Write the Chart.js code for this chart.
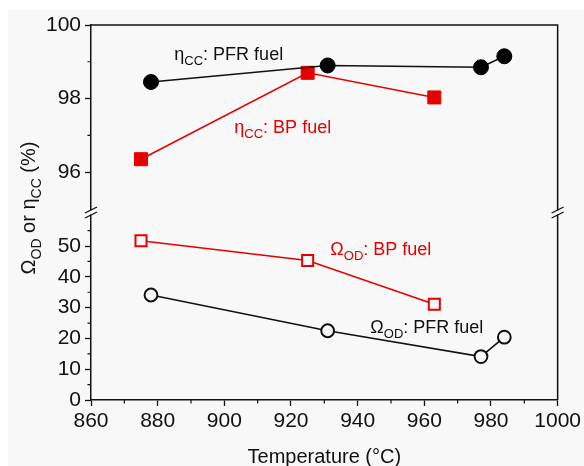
<!DOCTYPE html>
<html>
<head>
<meta charset="utf-8">
<script src="https://cdn.jsdelivr.net/npm/chart.js@4.4.0/dist/chart.umd.min.js"></script>
<style>
  html, body { margin: 0; padding: 0; background: #fff; }
  #wrap { position: relative; width: 584px; height: 466px; overflow: hidden; }
  #bg { position: absolute; left: 8px; top: 10px; right: 0; bottom: 0; background: #f8f8f8; }
  canvas { position: absolute; left: 0; top: 0; }
</style>
</head>
<body>
<div id="wrap"><div id="bg"></div><canvas id="chart" width="584" height="466"></canvas></div>
<script>
// values
const temperaturePfr = [878, 931, 977, 984];
const etaCcPfr = [98.45, 98.9, 98.85, 99.15];
const omegaOdPfr = [34.1, 22.5, 14.1, 20.4];

const temperatureBp = [875, 925, 963];
const etaCcBp = [96.35, 98.7, 98.03];
const omegaOdBp = [51.7, 45.3, 31.1];

const xTicks = [860, 880, 900, 920, 940, 960, 980, 1000];
const xMinorTicks = [870, 890, 910, 930, 950, 970, 990];
const topTicks = [96, 98, 100];
const topMinorTicks = [97, 99];
const bottomTicks = [0, 10, 20, 30, 40, 50];
const bottomMinorTicks = [5, 15, 25, 35, 45, 55];

const FONT = "'Liberation Sans', Arial, sans-serif";
const RED = '#e60000';
const BLACK = '#111';
const BG = '#f8f8f8';

const toPoints = (xs, ys) => xs.map((x, i) => ({ x: x, y: ys[i] }));

function yScale(min, max, ticks) {
  return {
    type: 'linear',
    position: 'left',
    stack: 'y',
    stackWeight: 1,
    min: min,
    max: max,
    afterBuildTicks: s => { s.ticks = ticks.map(v => ({ value: v })); },
    afterFit: s => { s.width = 91; },
    grid: { drawOnChartArea: false, tickLength: 6, tickColor: BLACK, tickWidth: 1.3 },
    border: { color: BLACK, width: 1.5 },
    ticks: { color: BLACK, padding: 4, autoSkip: false, font: { family: FONT, size: 21 },
             callback: v => String(v) }
  };
}

// text with subscripts: parts = [[text, isSub], ...]
function richText(ctx, parts, x, y, size, align) {
  const subSize = Math.round(size * 0.7);
  let w = 0;
  for (const [t, sub] of parts) {
    ctx.font = (sub ? subSize : size) + 'px ' + FONT;
    w += ctx.measureText(t).width;
  }
  let cx = align === 'center' ? x - w / 2 : x;
  for (const [t, sub] of parts) {
    ctx.font = (sub ? subSize : size) + 'px ' + FONT;
    ctx.fillText(t, cx, sub ? y + size * 0.3 : y);
    cx += ctx.measureText(t).width;
  }
}

function breakMark(ctx, x, y) {
  ctx.fillStyle = BG;
  ctx.fillRect(x - 3, y - 2, 6, 4);
  ctx.strokeStyle = BLACK;
  ctx.lineWidth = 1.3;
  for (const d of [-2.5, 2.5]) {
    ctx.beginPath();
    ctx.moveTo(x - 6, y + d + 3);
    ctx.lineTo(x + 6, y + d - 3);
    ctx.stroke();
  }
}

const decorations = {
  id: 'decorations',
  afterDraw(chart) {
    const ctx = chart.ctx;
    const area = chart.chartArea;
    const x = chart.scales.x, yTop = chart.scales.yTop, yBot = chart.scales.yBot;
    ctx.save();

    // top and right frame
    ctx.strokeStyle = BLACK;
    ctx.lineWidth = 1.5;
    ctx.beginPath();
    ctx.moveTo(area.left, area.top);
    ctx.lineTo(area.right, area.top);
    ctx.lineTo(area.right, area.bottom);
    ctx.stroke();

    // minor ticks
    ctx.lineWidth = 1.2;
    ctx.beginPath();
    for (const v of xMinorTicks) {
      const px = x.getPixelForValue(v);
      ctx.moveTo(px, area.bottom);
      ctx.lineTo(px, area.bottom + 3.5);
    }
    for (const v of topMinorTicks) {
      const py = yTop.getPixelForValue(v);
      ctx.moveTo(area.left, py);
      ctx.lineTo(area.left - 3.5, py);
    }
    for (const v of bottomMinorTicks) {
      const py = yBot.getPixelForValue(v);
      ctx.moveTo(area.left, py);
      ctx.lineTo(area.left - 3.5, py);
    }
    ctx.stroke();

    // axis break
    const yb = yTop.bottom;
    breakMark(ctx, area.left, yb);
    breakMark(ctx, area.right, yb);

    // series labels
    ctx.textBaseline = 'alphabetic';
    ctx.fillStyle = BLACK;
    richText(ctx, [['η', false], ['CC', true], [': PFR fuel', false]],
      x.getPixelForValue(885), yTop.getPixelForValue(99.05), 18, 'left');
    ctx.fillStyle = RED;
    richText(ctx, [['η', false], ['CC', true], [': BP fuel', false]],
      x.getPixelForValue(903), yTop.getPixelForValue(97.06), 18, 'left');
    richText(ctx, [['Ω', false], ['OD', true], [': BP fuel', false]],
      x.getPixelForValue(931.8), yBot.getPixelForValue(47.1), 18, 'left');
    ctx.fillStyle = BLACK;
    richText(ctx, [['Ω', false], ['OD', true], [': PFR fuel', false]],
      x.getPixelForValue(943.8), yBot.getPixelForValue(21.75), 18, 'left');

    // axis titles
    richText(ctx, [['Temperature (°C)', false]], (area.left + area.right) / 2, 463, 20, 'center');
    ctx.translate(35, 208);
    ctx.rotate(-Math.PI / 2);
    richText(ctx, [['Ω', false], ['OD', true], [' or η', false], ['CC', true], [' (%)', false]], 0, 0, 20, 'center');

    ctx.restore();
  }
};

new Chart(document.getElementById('chart'), {
  type: 'scatter',
  data: {
    datasets: [
      {
        label: 'ηCC: PFR fuel',
        data: toPoints(temperaturePfr, etaCcPfr),
        yAxisID: 'yTop',
        showLine: true,
        borderColor: BLACK,
        borderWidth: 1.6,
        pointStyle: 'circle',
        pointRadius: 7.5,
        pointBorderWidth: 1,
        pointBackgroundColor: '#000',
        pointBorderColor: '#000'
      },
      {
        label: 'ηCC: BP fuel',
        data: toPoints(temperatureBp, etaCcBp),
        yAxisID: 'yTop',
        showLine: true,
        borderColor: RED,
        borderWidth: 1.6,
        pointStyle: 'rect',
        pointRadius: 9.2,
        pointBorderWidth: 1,
        pointBackgroundColor: RED,
        pointBorderColor: RED
      },
      {
        label: 'ΩOD: BP fuel',
        data: toPoints(temperatureBp, omegaOdBp),
        yAxisID: 'yBot',
        showLine: true,
        borderColor: RED,
        borderWidth: 1.6,
        pointStyle: 'rect',
        pointRadius: 7.8,
        pointBorderWidth: 2,
        pointBackgroundColor: BG,
        pointBorderColor: RED
      },
      {
        label: 'ΩOD: PFR fuel',
        data: toPoints(temperaturePfr, omegaOdPfr),
        yAxisID: 'yBot',
        showLine: true,
        borderColor: BLACK,
        borderWidth: 1.6,
        pointStyle: 'circle',
        pointRadius: 6.4,
        pointBorderWidth: 2,
        pointBackgroundColor: BG,
        pointBorderColor: BLACK
      }
    ]
  },
  options: {
    responsive: false,
    animation: false,
    events: [],
    layout: { padding: { left: 0, top: 25, right: 25.5, bottom: 0 } },
    plugins: { legend: { display: false }, tooltip: { enabled: false } },
    scales: {
      x: {
        type: 'linear',
        min: 860,
        max: 1000,
        afterBuildTicks: s => { s.ticks = xTicks.map(v => ({ value: v })); },
        afterFit: s => { s.height = 66; },
        grid: { drawOnChartArea: false, tickLength: 6, tickColor: BLACK, tickWidth: 1.3 },
        border: { color: BLACK, width: 1.5 },
        ticks: { color: BLACK, padding: 3, maxRotation: 0, autoSkip: false,
                 font: { family: FONT, size: 21 }, callback: v => String(v) }
      },
      yBot: yScale(0, 60.9, bottomTicks),
      yTop: yScale(94.9, 100, topTicks)
    }
  },
  plugins: [decorations]
});
</script>
</body>
</html>
